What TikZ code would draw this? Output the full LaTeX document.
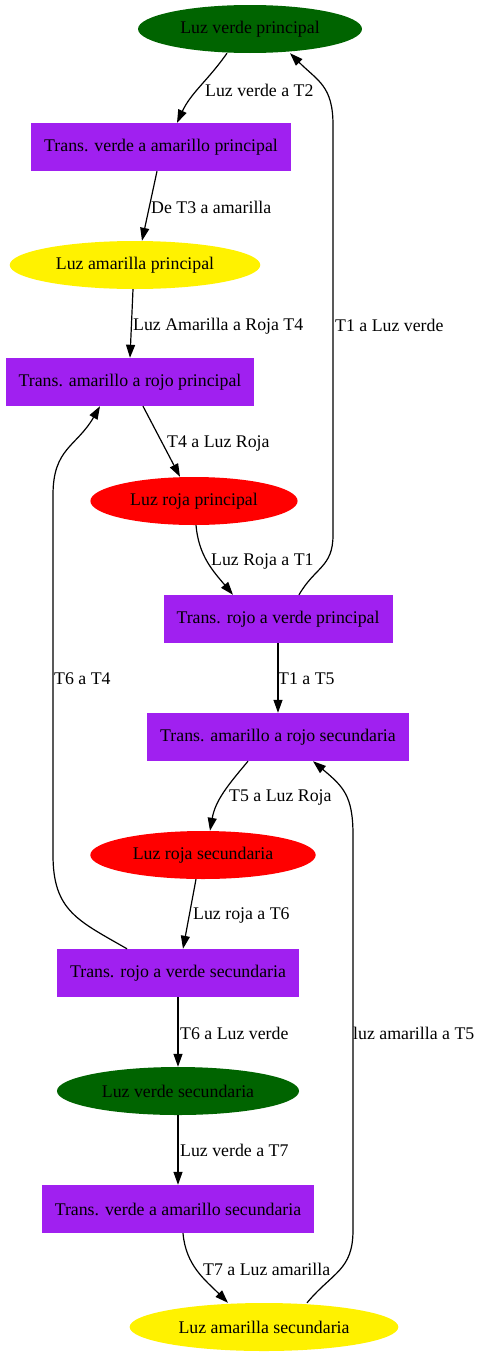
\documentclass[tikz,border=0pt]{standalone}
\usepackage{fontspec}
\setmainfont{Liberation Serif}
\usepackage{tikz}
\usetikzlibrary{
  positioning,
  arrows.meta,
  shapes.geometric
}
\definecolor{verdeosc}{RGB}{0,100,0}
\definecolor{morado}{RGB}{160,32,240}
\tikzset{
  >=Triangle,
  flecha/.style={-{Triangle[length=13pt,width=9pt]},line width=1.2pt},
  estado/.style={ellipse,inner xsep=9.5pt,inner ysep=2pt,minimum height=48pt,align=center},
  transicion/.style={rectangle,fill=morado,inner xsep=13pt,minimum height=48pt,align=center},
  etiqueta/.style={anchor=west,inner sep=0pt}
}

\begin{document}
\begin{tikzpicture}[x=1pt,y=1pt,font=\fontsize{17.8}{20}\selectfont]
    \useasboundingbox (0,0) rectangle (482,-1357);

    % Semaforo principal
    \node[estado,fill=verdeosc] (vp) at (250,-29) {Luz verde principal};
    \node[transicion] (tvap) at (161,-147) {Trans. verde a amarillo principal};
    \node[estado,fill=yellow] (ap) at (135,-265) {Luz amarilla principal};
    \node[transicion] (tarp) at (130,-382) {Trans. amarillo a rojo principal};
    \node[estado,fill=red] (rp) at (194,-501) {Luz roja principal};
    \node[transicion] (trvp) at (278,-619) {Trans. rojo a verde principal};

    % Semaforo secundario
    \node[transicion] (tars) at (278,-737) {Trans. amarillo a rojo secundaria};
    \node[estado,fill=red] (rs) at (203,-855) {Luz roja secundaria};
    \node[transicion] (trvs) at (178,-973) {Trans. rojo a verde secundaria};
    \node[estado,fill=verdeosc] (vs) at (178,-1091) {Luz verde secundaria};
    \node[transicion] (tvas) at (178,-1209) {Trans. verde a amarillo secundaria};
    \node[estado,fill=yellow] (as) at (264,-1327) {Luz amarilla secundaria};

    % Arcos
    \draw[flecha] ([xshift=-23pt]vp.south) to[out=-125,in=65] ([xshift=16pt]tvap.north);
    \draw[flecha] ([xshift=-4pt]tvap.south) -- ([xshift=7pt]ap.north);
    \draw[flecha] ([xshift=-2pt]ap.south) -- (tarp.north);
    \draw[flecha] ([xshift=13pt]tarp.south) -- ([xshift=-14pt]rp.north);
    \draw[flecha] ([xshift=2pt]rp.south) to[out=-85,in=130] ([xshift=-45pt]trvp.north);
    \draw[flecha] ([xshift=21pt]trvp.north) to[out=60,in=-90,looseness=1.2] (333,-535) -- (333,-125) to[out=90,in=-45,looseness=1.2] ([xshift=40pt]vp.south);
    \draw[flecha] (trvp.south) -- (tars.north);
    \draw[flecha] ([xshift=-30pt]tars.south) to[out=-130,in=80] ([xshift=7pt]rs.north);
    \draw[flecha] ([xshift=-7pt]rs.south) -- ([xshift=5pt]trvs.north);
    \draw[flecha] ([xshift=-51pt]trvs.north) to[out=150,in=-90,looseness=1.2] (53,-855) -- (53,-495) to[out=90,in=-120,looseness=1.2] ([xshift=-30pt]tarp.south);
    \draw[flecha] (trvs.south) -- (vs.north);
    \draw[flecha] (vs.south) -- (tvas.north);
    \draw[flecha] ([xshift=5pt]tvas.south) to[out=-85,in=135] ([xshift=-36pt]as.north);
    \draw[flecha] ([xshift=43pt]as.north) to[out=50,in=-90,looseness=1.2] (353,-1230) -- (353,-835) to[out=90,in=-40,looseness=1.2] ([xshift=35pt]tars.south);

    % Etiquetas
    \node[etiqueta] (l1) at (205,-90) {Luz verde a T2};
    \node[etiqueta] (l2) at (151,-207) {De T3 a amarilla};
    \node[etiqueta] (l3) at (133,-326) {Luz Amarilla a Roja T4};
    \node[etiqueta] (l4) at (167,-443) {T4 a Luz Roja};
    \node[etiqueta] (l5) at (211,-561) {Luz Roja a T1};
    \node[etiqueta] (l6) at (335,-325) {T1 a Luz verde};
    \node[etiqueta] (l7) at (278,-679) {T1 a T5};
    \node[etiqueta] (l8) at (229,-797) {T5 a Luz Roja};
    \node[etiqueta] (l9) at (193,-915) {Luz roja a T6};
    \node[etiqueta] (l10) at (54,-679) {T6 a T4};
    \node[etiqueta] (l11) at (180,-1033) {T6 a Luz verde};
    \node[etiqueta] (l12) at (180,-1150) {Luz verde a T7};
    \node[etiqueta] (l13) at (203,-1269) {T7 a Luz amarilla};
    \node[etiqueta] (l14) at (353,-1033) {luz amarilla a T5};
\end{tikzpicture}
\end{document}
